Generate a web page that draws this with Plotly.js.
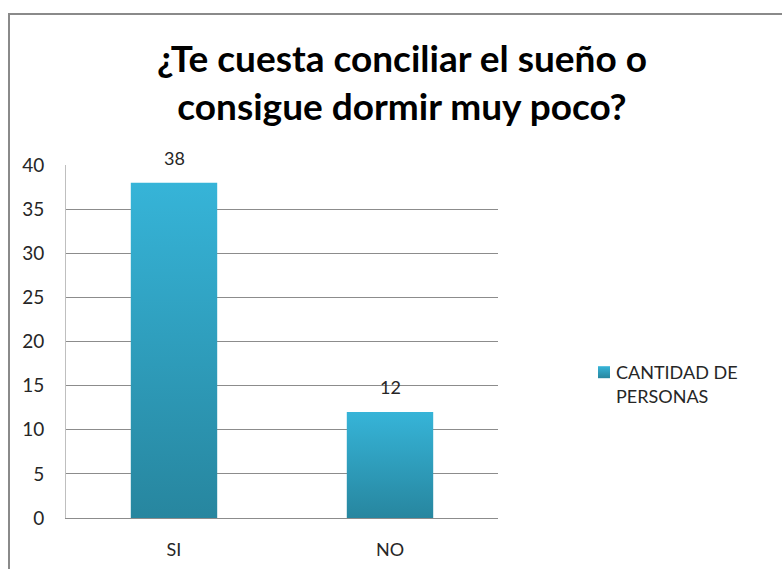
<!DOCTYPE html>
<html>
<head>
<meta charset="utf-8">
<script src="https://cdn.plot.ly/plotly-3.0.1.min.js"></script>
<style>
  html, body { margin: 0; padding: 0; background: #fff; }
  #wrap { position: relative; width: 782px; height: 569px; overflow: hidden; }
  #chart { width: 782px; height: 569px; }
  #frame { position: absolute; left: 8px; top: 13px; width: 900px; height: 700px;
           border: 2px solid #8a8a8a; pointer-events: none; box-sizing: border-box; }
</style>
</head>
<body>
<div id="wrap">
  <div id="chart"></div>
  <div id="frame"></div>
</div>
<script>
const categories = ["SI", "NO"];
const values = [38, 12];
const seriesName = "CANTIDAD DE<br>PERSONAS";
const titleText = "¿Te cuesta conciliar el sueño o<br>consigue dormir muy poco?";
const yTicks = [0, 5, 10, 15, 20, 25, 30, 35, 40];

const fontFam = "Lato, 'Open Sans', sans-serif";

const trace = {
  type: "bar",
  x: categories,
  y: values,
  name: seriesName,
  marker: { color: "#30a3c6", line: { width: 0 } },
  hoverinfo: "x+y",
  showlegend: true
};

const valueLabels = categories.map(function (c, i) {
  return {
    x: c, y: values[i], xref: "x", yref: "y",
    text: String(values[i]),
    showarrow: false,
    yanchor: "bottom",
    yshift: 12,
    font: { family: fontFam, size: 18, color: "#262626" }
  };
});

const layout = {
  width: 782,
  height: 569,
  paper_bgcolor: "#ffffff",
  plot_bgcolor: "#ffffff",
  margin: { l: 66, r: 284, t: 165, b: 51 },
  font: { family: fontFam, color: "#262626", size: 18 },
  title: {
    text: titleText,
    font: { family: fontFam, size: 37, color: "#000000", weight: "bold" },
    xref: "container", yref: "container",
    x: 0.514, xanchor: "center",
    y: 1 - 72 / 569, yanchor: "top"
  },
  bargap: 0.6,
  annotations: valueLabels,
  xaxis: {
    type: "category",
    showgrid: false,
    showline: true,
    linecolor: "#8c8c8c",
    linewidth: 1,
    ticks: "",
    ticklabelstandoff: 15,
    tickfont: { family: fontFam, size: 18, color: "#262626" },
    zeroline: false,
    fixedrange: true
  },
  yaxis: {
    range: [0, 40],
    tickvals: yTicks,
    ticktext: yTicks.map(String),
    showgrid: true,
    gridcolor: "#8c8c8c",
    gridwidth: 1,
    showline: true,
    linecolor: "#bfbfbf",
    linewidth: 1,
    ticks: "",
    ticklabelstandoff: 17,
    tickfont: { family: fontFam, size: 19, color: "#262626" },
    zeroline: false,
    fixedrange: true
  },
  showlegend: true,
  legend: {
    xref: "container", yref: "container",
    x: 584 / 782, xanchor: "left",
    y: 1 - 384 / 569, yanchor: "middle",
    valign: "top",
    font: { family: fontFam, size: 18, color: "#262626" },
    itemwidth: 30,
    bgcolor: "rgba(0,0,0,0)",
    tracegroupgap: 0
  }
};

Plotly.newPlot("chart", [trace], layout, { displayModeBar: false, staticPlot: true }).then(function (gd) {
  // Apply a vertical gradient to the library-drawn bars and legend swatch
  const svg = gd.querySelector("svg.main-svg");
  const ns = "http://www.w3.org/2000/svg";
  let defs = svg.querySelector("defs");
  if (!defs) { defs = document.createElementNS(ns, "defs"); svg.insertBefore(defs, svg.firstChild); }
  const grad = document.createElementNS(ns, "linearGradient");
  grad.setAttribute("id", "barGrad");
  grad.setAttribute("x1", "0"); grad.setAttribute("y1", "0");
  grad.setAttribute("x2", "0"); grad.setAttribute("y2", "1");
  const s1 = document.createElementNS(ns, "stop");
  s1.setAttribute("offset", "0"); s1.setAttribute("stop-color", "#36b4d8");
  const s2 = document.createElementNS(ns, "stop");
  s2.setAttribute("offset", "1"); s2.setAttribute("stop-color", "#27869f");
  grad.appendChild(s1); grad.appendChild(s2);
  defs.appendChild(grad);
  gd.querySelectorAll(".bars .point path").forEach(function (p) {
    p.style.fill = "url(#barGrad)";
  });
  gd.querySelectorAll(".legendpoints path").forEach(function (p) {
    p.style.fill = "url(#barGrad)";
  });
  // tighten gap between legend swatch and its text
  gd.querySelectorAll(".legendtext").forEach(function (t) {
    t.setAttribute("transform", "translate(-8,0)");
  });
});
</script>
</body>
</html>
